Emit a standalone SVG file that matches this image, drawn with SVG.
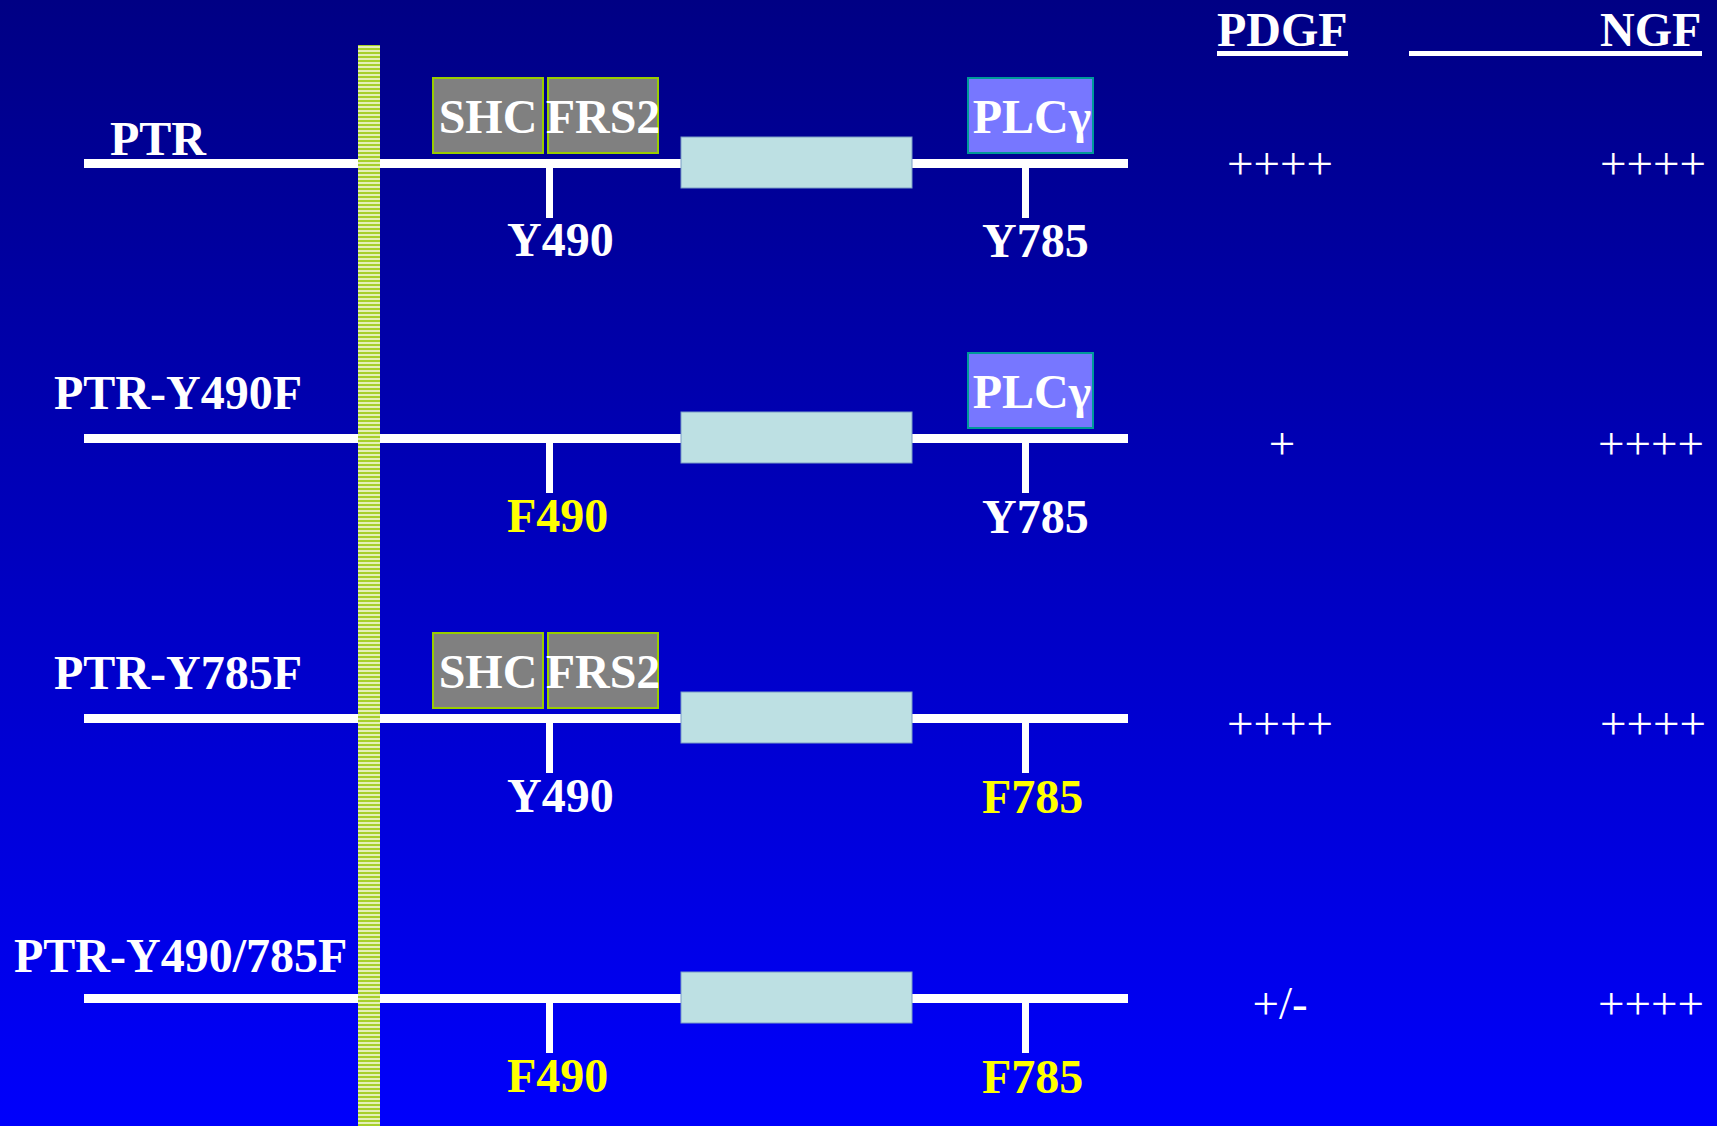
<svg xmlns="http://www.w3.org/2000/svg" width="1717" height="1126" viewBox="0 0 1717 1126">
<defs>
<linearGradient id="bg" x1="0" y1="0" x2="0" y2="1">
<stop offset="0" stop-color="#000084"/>
<stop offset="1" stop-color="#0000fc"/>
</linearGradient>
<pattern id="stripes" x="0" y="0" width="22" height="4" patternUnits="userSpaceOnUse">
<rect x="0" y="0" width="22" height="4" fill="#e4efb8"/>
<rect x="0" y="0" width="22" height="2" fill="#a6d02a"/>
</pattern>
<style>
text{font-family:"Liberation Serif","Times New Roman",serif;fill:#ffffff}
.b{font-weight:bold;font-size:48px}
.y{fill:#ffff00}
.p{font-size:47px}
.line{fill:#ffffff}
.adapt{fill:#808080;stroke:#99cc00;stroke-width:2}
.plc{fill:#7777ff;stroke:#009999;stroke-width:2}
.kin{fill:#bde0e3;stroke:#7a9cc6;stroke-width:1}
</style>
</defs>
<rect x="0" y="0" width="1717" height="1126" fill="url(#bg)"/>

<g id="connectors">
<rect class="line" x="84" y="159" width="1044" height="9"/>
<rect class="line" x="546" y="166" width="7" height="52"/>
<rect class="line" x="1022" y="166" width="7" height="52"/>
<rect class="line" x="84" y="434" width="1044" height="9"/>
<rect class="line" x="546" y="441" width="7" height="52"/>
<rect class="line" x="1022" y="441" width="7" height="52"/>
<rect class="line" x="84" y="714" width="1044" height="9"/>
<rect class="line" x="546" y="721" width="7" height="52"/>
<rect class="line" x="1022" y="721" width="7" height="52"/>
<rect class="line" x="84" y="994" width="1044" height="9"/>
<rect class="line" x="546" y="1001" width="7" height="52"/>
<rect class="line" x="1022" y="1001" width="7" height="52"/>
</g>

<g id="membrane">
<rect x="358" y="45" width="22" height="1081" fill="url(#stripes)"/>
</g>

<g id="header-pdgf">
<text class="b" x="1217" y="46">PDGF</text>
<rect class="line" x="1217" y="51" width="131" height="5"/>
</g>
<g id="header-ngf">
<text class="b" x="1600" y="46">NGF</text>
<rect class="line" x="1409" y="51" width="293" height="5"/>
</g>

<g id="row-ptr">
<text class="b" x="110" y="155">PTR</text>
<rect class="kin" x="681" y="137" width="231" height="51"/>
<g id="shc-1"><rect class="adapt" x="433" y="78" width="110" height="75"/><text class="b" x="488" y="133" text-anchor="middle">SHC</text></g>
<g id="frs2-1"><rect class="adapt" x="548" y="78" width="110" height="75"/><text class="b" x="603" y="133" text-anchor="middle">FRS2</text></g>
<g id="plc-1"><rect class="plc" x="968" y="78" width="125" height="75"/><text class="b" x="1032" y="133" text-anchor="middle">PLCγ</text></g>
<text class="b" x="507" y="256">Y490</text>
<text class="b" x="982" y="257">Y785</text>
<text class="p" x="1280" y="179" text-anchor="middle">++++</text>
<text class="p" x="1653" y="179" text-anchor="middle">++++</text>
</g>

<g id="row-ptr-y490f">
<text class="b" x="54" y="409">PTR-Y490F</text>
<rect class="kin" x="681" y="412" width="231" height="51"/>
<g id="plc-2"><rect class="plc" x="968" y="353" width="125" height="75"/><text class="b" x="1032" y="408" text-anchor="middle">PLCγ</text></g>
<text class="b y" x="507" y="532">F490</text>
<text class="b" x="982" y="533">Y785</text>
<text class="p" x="1282" y="459" text-anchor="middle">+</text>
<text class="p" x="1651" y="459" text-anchor="middle">++++</text>
</g>

<g id="row-ptr-y785f">
<text class="b" x="54" y="689">PTR-Y785F</text>
<rect class="kin" x="681" y="692" width="231" height="51"/>
<g id="shc-3"><rect class="adapt" x="433" y="633" width="110" height="75"/><text class="b" x="488" y="688" text-anchor="middle">SHC</text></g>
<g id="frs2-3"><rect class="adapt" x="548" y="633" width="110" height="75"/><text class="b" x="603" y="688" text-anchor="middle">FRS2</text></g>
<text class="b" x="507" y="812">Y490</text>
<text class="b y" x="982" y="813">F785</text>
<text class="p" x="1280" y="739" text-anchor="middle">++++</text>
<text class="p" x="1653" y="739" text-anchor="middle">++++</text>
</g>

<g id="row-ptr-y490-785f">
<text class="b" x="14" y="972">PTR-Y490/785F</text>
<rect class="kin" x="681" y="972" width="231" height="51"/>
<text class="b y" x="507" y="1092">F490</text>
<text class="b y" x="982" y="1093">F785</text>
<text class="p" x="1280" y="1019" text-anchor="middle">+/-</text>
<text class="p" x="1651" y="1019" text-anchor="middle">++++</text>
</g>
</svg>
